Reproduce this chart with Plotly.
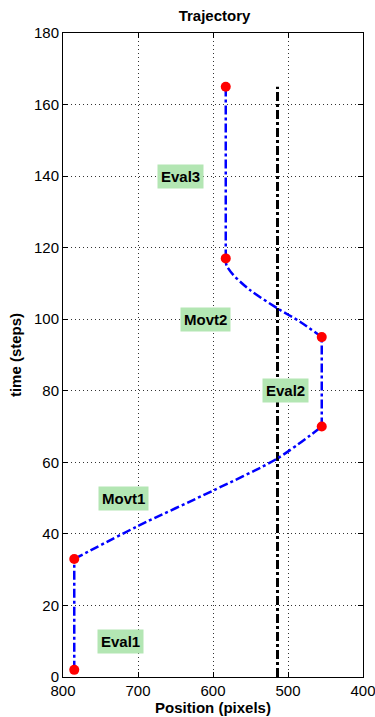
import plotly.graph_objects as go

# Movement phases of the trajectory
movt1_x = [785, 700, 600, 514, 455]
movt1_y = [33, 42.2, 52.1, 61.1, 70]
movt2_x = [455, 484, 513, 551, 573, 582, 583]
movt2_y = [95, 99.3, 102.9, 108.2, 112.4, 115.1, 117]

# Event points (red dots); evaluation phases join consecutive pairs
event_x = [785, 785, 455, 455, 583, 583]
event_y = [2, 33, 70, 95, 117, 165]

# Vertical reference line
ref_x = [514, 514]
ref_y = [0, 165]

# Phase labels
label_text = ["Eval1", "Movt1", "Eval2", "Movt2", "Eval3"]
label_x = [724, 720, 504, 610, 644]
label_y = [10, 50, 80, 100, 140]

x_ticks = [800, 700, 600, 500, 400]
y_ticks = [0, 20, 40, 60, 80, 100, 120, 140, 160, 180]

FONT = "Liberation Sans, Arial"
BLUE = dict(color="#0000ff", width=2.5, dash="dashdot")

fig = go.Figure()
fig.add_trace(go.Scatter(x=ref_x, y=ref_y, mode="lines",
                         line=dict(color="black", width=3, dash="dashdot"),
                         showlegend=False, hoverinfo="skip"))
# evaluation (vertical) segments
for i in range(0, len(event_x), 2):
    fig.add_trace(go.Scatter(x=event_x[i:i + 2], y=event_y[i:i + 2], mode="lines",
                             line=BLUE, showlegend=False))
# movement segments
for mx, my in ((movt1_x, movt1_y), (movt2_x, movt2_y)):
    fig.add_trace(go.Scatter(x=mx, y=my, mode="lines",
                             line=dict(BLUE, shape="spline", smoothing=0.8),
                             showlegend=False))
fig.add_trace(go.Scatter(x=event_x, y=event_y, mode="markers",
                         marker=dict(color="#ff0000", size=10),
                         showlegend=False))

for t, x, y in zip(label_text, label_x, label_y):
    fig.add_annotation(x=x, y=y, text="<b>%s</b>" % t, showarrow=False,
                       font=dict(family=FONT, size=15, color="black"),
                       bgcolor="#b3e6b3", borderpad=3)

axis_common = dict(showline=True, linecolor="black", linewidth=1, mirror="ticks",
                   ticks="inside", ticklen=5, tickcolor="black",
                   showgrid=True, gridcolor="#333333", gridwidth=1, griddash="1px,3px",
                   zeroline=False, automargin=False, ticklabeloverflow="allow",
                   tickfont=dict(family=FONT, size=15, color="black"))

fig.update_xaxes(range=[800, 400], tickvals=x_ticks,
                 title=dict(text="<b>Position (pixels)</b>", standoff=0,
                            font=dict(family=FONT, size=15, color="black")),
                 **axis_common)
fig.update_yaxes(range=[0, 180], tickvals=y_ticks,
                 title=dict(text="<b>time (steps)</b>", standoff=8,
                            font=dict(family=FONT, size=15, color="black")),
                 **axis_common)

fig.update_layout(
    width=375, height=717,
    margin=dict(l=63, r=12, t=33, b=40),
    plot_bgcolor="white", paper_bgcolor="white",
    title=dict(text="<b>Trajectory</b>", x=0.572, xanchor="center",
               y=0.978, yanchor="middle", yref="container", automargin=False,
               font=dict(family=FONT, size=15, color="black")),
)

# remove the page's default body margin so the figure fills the window exactly
fig.write_html("out.html", config={"displayModeBar": False},
               post_script="document.body.style.margin='0px';document.body.style.overflow='hidden';")
